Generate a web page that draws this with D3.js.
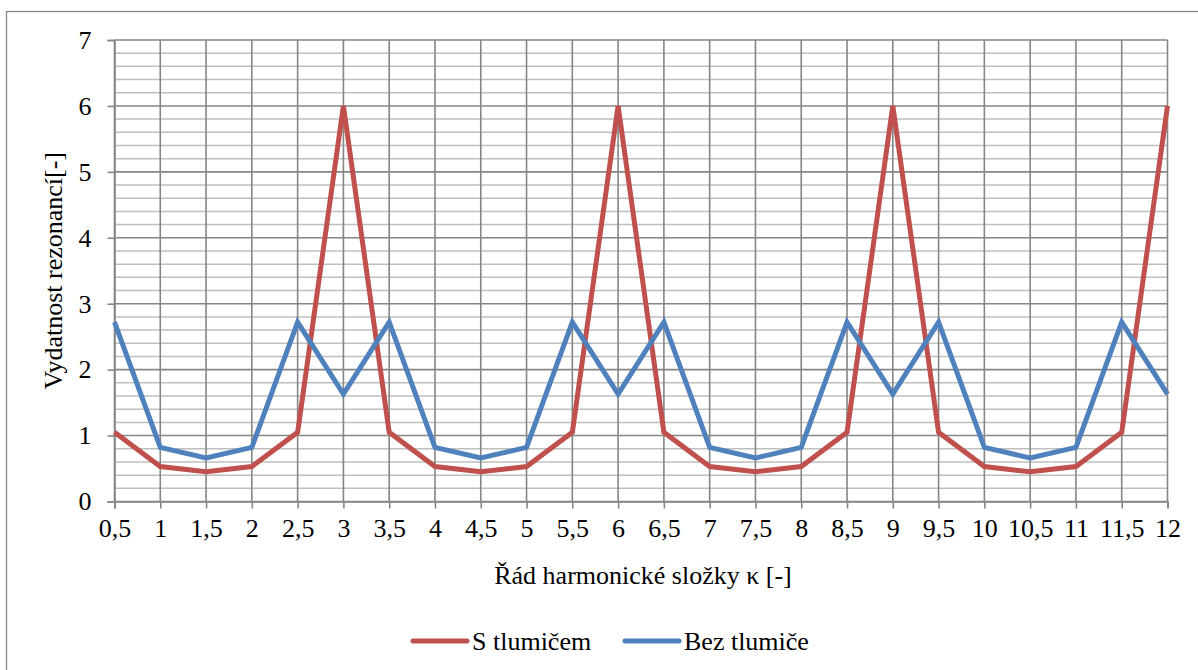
<!DOCTYPE html>
<html><head><meta charset="utf-8">
<script src="https://cdn.jsdelivr.net/npm/d3@7"></script>
<style>html,body{margin:0;padding:0;background:#fff}svg{display:block}
svg text{font-family:"Liberation Serif","Times New Roman","DejaVu Serif",serif !important;}</style>
</head><body>
<svg id="c" width="1198" height="670"></svg>
<script>
const categories = ["0,5","1","1,5","2","2,5","3","3,5","4","4,5","5","5,5","6","6,5","7","7,5","8","8,5","9","9,5","10","10,5","11","11,5","12"];
const sTlumicem = [1.05,0.53,0.45,0.53,1.05,6,1.05,0.53,0.45,0.53,1.05,6,1.05,0.53,0.45,0.53,1.05,6,1.05,0.53,0.45,0.53,1.05,6];
const bezTlumice = [2.72,0.82,0.66,0.82,2.72,1.63,2.72,0.82,0.66,0.82,2.72,1.63,2.72,0.82,0.66,0.82,2.72,1.63,2.72,0.82,0.66,0.82,2.72,1.63];
const yTicks = [0,1,2,3,4,5,6,7];
const seriesNames = ["S tlumičem","Bez tlumiče"];
const colors = ["#C0504D","#4F81BD"];

const svg = d3.select("#c");
const L = 114.5, R = 1167.5, T = 40, B = 501.5;

svg.append("rect").attr("x",6.5).attr("y",11.5).attr("width",1300).attr("height",800)
  .attr("fill","none").attr("stroke","#898989").attr("stroke-width",1.3);

const x = d3.scalePoint().domain(categories).range([L,R]);
const y = d3.scaleLinear().domain([0,7]).range([B,T]);

const minor = d3.range(0,7.0001,0.2).filter(v => Math.abs(v-Math.round(v))>1e-6);
svg.append("g").selectAll("line").data(minor).join("line")
  .attr("x1",L).attr("x2",R).attr("y1",d=>y(d)).attr("y2",d=>y(d))
  .attr("stroke","#BFBFBF").attr("stroke-width",1.5);
svg.append("g").selectAll("line").data(categories).join("line")
  .attr("x1",d=>x(d)).attr("x2",d=>x(d)).attr("y1",T).attr("y2",B)
  .attr("stroke","#868686").attr("stroke-width",1.6);
svg.append("g").selectAll("line").data(yTicks).join("line")
  .attr("x1",L).attr("x2",R).attr("y1",d=>y(d)).attr("y2",d=>y(d))
  .attr("stroke","#868686").attr("stroke-width",1.6);

const yAxis = d3.axisLeft(y).tickValues(yTicks).tickSize(7).tickPadding(16).tickFormat(d3.format("d"));
const gy = svg.append("g").attr("transform",`translate(${L},0)`).call(yAxis);
const xAxis = d3.axisBottom(x).tickSize(7).tickPadding(10);
const gx = svg.append("g").attr("transform",`translate(0,${B})`).call(xAxis);
[gx,gy].forEach(g=>{
  g.select(".domain").attr("stroke","#868686").attr("stroke-width",1.6);
  g.selectAll(".tick line").attr("stroke","#868686").attr("stroke-width",1.6);
  g.selectAll("text").attr("font-size",26).attr("fill","#000");
});

const line = d3.line().x((d,i)=>x(categories[i])).y(d=>y(d));
[sTlumicem,bezTlumice].forEach((s,i)=>{
  svg.append("path").datum(s).attr("d",line).attr("fill","none")
    .attr("stroke",colors[i]).attr("stroke-width",5).attr("stroke-linejoin","miter");
});

svg.append("text").attr("x",(L+R)/2+2).attr("y",584).attr("text-anchor","middle")
  .attr("font-size",26).text("Řád harmonické složky κ [-]");
svg.append("text").attr("transform",`translate(62,${(T+B)/2}) rotate(-90)`).attr("text-anchor","middle")
  .attr("font-size",26).text("Vydatnost rezonancí[-]");

const lx = [413,625];
seriesNames.forEach((n,i)=>{
  svg.append("line").attr("x1",lx[i]).attr("x2",lx[i]+54).attr("y1",641).attr("y2",641)
    .attr("stroke",colors[i]).attr("stroke-width",5).attr("stroke-linecap","round");
  svg.append("text").attr("x",lx[i]+59).attr("y",650).attr("font-size",26).text(n);
});
</script>
</body></html>
